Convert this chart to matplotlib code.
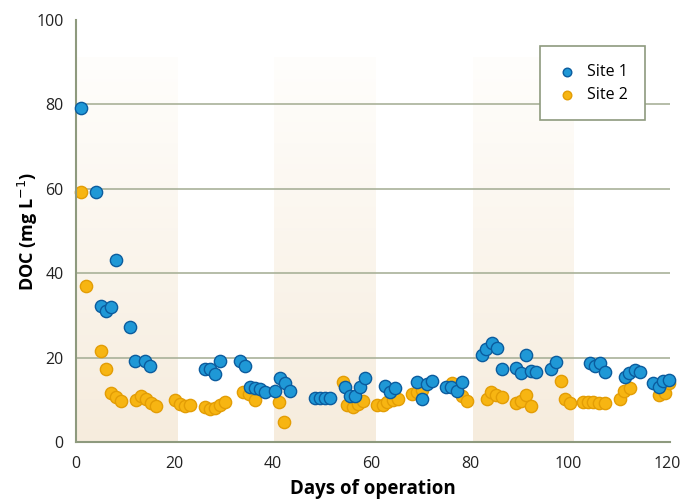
import numpy as np
import matplotlib
matplotlib.use("Agg")
import matplotlib.pyplot as plt
from matplotlib.colors import LinearSegmentedColormap

plt.rcParams["font.family"] = ["Open Sans", "DejaVu Sans"]

# Site 1 (blue)
site1_day = [1.0, 4.1, 5.1, 6.1, 7.1, 8.1, 11.0, 12.0, 14.0, 15.0,
             26.2, 27.2, 28.2, 29.2, 33.3, 34.3, 35.3, 36.3, 37.4, 38.4,
             40.4, 41.4, 42.4, 43.5, 48.5, 49.5, 50.6, 51.6, 54.6, 55.6, 56.6, 57.7, 58.7,
             62.7, 63.8, 64.8, 69.2, 70.2, 71.3, 72.3, 75.1, 76.1, 77.4, 78.4,
             82.4, 83.2, 84.5, 85.5, 86.5, 89.3, 90.4, 91.4, 92.4, 93.4, 96.4, 97.5,
             104.4, 105.4, 106.4, 107.4, 111.5, 112.3, 113.5, 114.5, 117.2, 118.4, 119.2, 120.4]
site1_doc = [79.1, 59.2, 32.2, 31.0, 32.0, 43.1, 27.2, 19.2, 19.2, 18.0,
             17.3, 17.3, 16.1, 19.2, 19.2, 18.0, 13.0, 12.8, 12.6, 11.8,
             12.0, 15.2, 14.0, 12.0, 10.4, 10.4, 10.4, 10.4, 13.0, 10.9, 10.9, 13.0, 15.2,
             13.2, 11.8, 12.8, 14.2, 10.2, 13.7, 14.5, 13.0, 13.0, 12.1, 14.2,
             20.6, 22.0, 23.5, 22.3, 17.3, 17.5, 16.3, 20.6, 16.8, 16.6, 17.3, 19.0,
             18.7, 18.0, 18.7, 16.6, 15.4, 16.4, 17.1, 16.6, 14.0, 13.0, 14.5, 14.7]

# Site 2 (orange)
site2_day = [1.0, 2.0, 5.1, 6.1, 7.1, 8.1, 9.1, 12.2, 13.2, 14.2, 15.2, 16.2,
             20.1, 21.1, 22.1, 23.2, 26.2, 27.2, 28.2, 29.2, 30.3, 33.9, 35.1, 36.4,
             41.2, 42.2, 54.2, 55.0, 56.2, 57.3, 58.3, 61.1, 62.3, 63.1, 64.4, 65.4,
             68.2, 69.2, 70.3, 76.3, 77.4, 78.4, 79.4,
             83.5, 84.3, 85.3, 86.5, 89.3, 90.4, 91.4, 92.4, 98.5, 99.3, 100.3,
             103.0, 104.0, 105.0, 106.2, 107.4, 110.5, 111.3, 112.5, 118.4, 119.6, 120.4]
site2_doc = [59.2, 37.0, 21.6, 17.3, 11.6, 10.7, 9.7, 9.9, 10.9, 10.2, 9.2, 8.5,
             10.0, 9.0, 8.5, 8.8, 8.3, 7.8, 8.1, 8.8, 9.5, 11.8, 11.4, 9.9,
             9.6, 4.8, 14.2, 8.8, 8.3, 9.0, 9.7, 8.8, 8.8, 9.5, 9.9, 10.2,
             11.4, 11.8, 12.3, 14.0, 12.8, 10.9, 9.7,
             10.2, 11.8, 11.1, 10.7, 9.2, 9.7, 11.1, 8.5, 14.5, 10.2, 9.2,
             9.5, 9.5, 9.5, 9.2, 9.2, 10.2, 12.1, 12.8, 11.1, 11.6, 14.0]

bands = [(0, 20.6), (40.2, 60.9), (80.6, 101.1)]
band_top = 91

fig = plt.figure(figsize=(6.95, 4.99), dpi=100)
ax = fig.add_axes([0.1094, 0.114, 0.8547, 0.846])

grid_col = "#a9b199"
x_end = 120.6
ax.set_xlim(0, x_end)
ax.set_ylim(0, 100)

# shaded periods, fading upward
cmap = LinearSegmentedColormap.from_list("band", ["#f6ecdd", "#fffefc"])
grad = np.linspace(0, 1, 256).reshape(-1, 1)
for x0, x1 in bands:
    ax.imshow(grad, cmap=cmap, extent=[x0, x1, 0, band_top], origin="lower",
              aspect="auto", zorder=0, interpolation="bicubic")

for yv in [20, 40, 60, 80]:
    ax.plot([0, x_end], [yv, yv], color=grid_col, lw=1.2, zorder=1)
ax.plot([0, x_end], [0, 0], color="#8e9a7e", lw=1.5, zorder=1, clip_on=False)

ax.scatter(site1_day, site1_doc, s=78, color="#1f98d6", edgecolors="#0b5c9e",
           linewidths=1.0, zorder=3, label="Site 1", clip_on=False)
ax.scatter(site2_day, site2_doc, s=78, color="#f7b512", edgecolors="#e39d05",
           linewidths=1.0, zorder=2, label="Site 2", clip_on=False)

for s in ["top", "right", "bottom"]:
    ax.spines[s].set_visible(False)
ax.spines["left"].set_color("#8e9a7e")
ax.spines["left"].set_linewidth(1.5)

ax.set_xticks([0, 20, 40, 60, 80, 100, 120])
ax.set_yticks([0, 20, 40, 60, 80, 100])
ax.tick_params(length=0, labelsize=11.5, pad=10, colors="#222222")
ax.tick_params(axis="y", pad=9)

ax.set_xlabel("Days of operation", fontsize=13.5, fontweight="bold", labelpad=5)
ax.set_ylabel("DOC (mg L$^{-1}$)", fontsize=13, fontweight="bold", labelpad=-3)

leg = ax.legend(loc="upper right", bbox_to_anchor=(0.958, 0.938), fontsize=11.5,
                frameon=True, fancybox=False, handlelength=1.3, handletextpad=0.55,
                borderpad=1.1, labelspacing=0.45, markerscale=0.7, borderaxespad=0)
leg.get_frame().set_edgecolor("#8e9a7e")
leg.get_frame().set_linewidth(1.2)
leg.get_frame().set_alpha(1)

fig.savefig("out.png", dpi=100)
